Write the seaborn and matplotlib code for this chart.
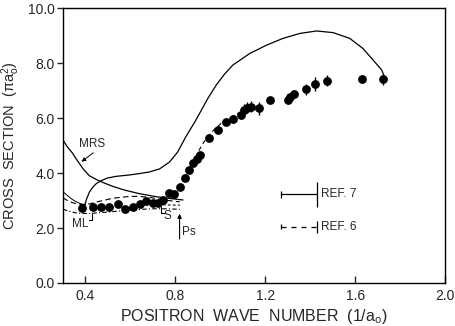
import numpy as np
import pandas as pd
import matplotlib
matplotlib.use("Agg")
import matplotlib.pyplot as plt
import seaborn as sns

# ---- measured data ----
k_data = [0.385, 0.433, 0.470, 0.507, 0.544, 0.578, 0.611, 0.641, 0.670, 0.700,
          0.722, 0.745, 0.774, 0.795, 0.819, 0.841, 0.863, 0.880, 0.895, 0.908,
          0.949, 0.990, 1.024, 1.056, 1.090, 1.105, 1.120, 1.138, 1.172, 1.220,
          1.300, 1.312, 1.328, 1.380, 1.420, 1.473, 1.629, 1.725]
sigma_data = [2.72, 2.75, 2.75, 2.78, 2.86, 2.70, 2.78, 2.86, 2.98, 2.92,
              2.92, 3.02, 3.26, 3.24, 3.50, 3.82, 4.10, 4.35, 4.50, 4.65,
              5.28, 5.57, 5.85, 5.97, 6.12, 6.30, 6.38, 6.42, 6.35, 6.65,
              6.66, 6.76, 6.88, 7.04, 7.24, 7.35, 7.41, 7.42]
sigma_err = [0, 0, 0, 0, 0, 0, 0, 0, 0, 0,
             0, 0, 0, 0, 0, 0, 0, 0, 0, 0,
             0, 0, 0, 0, 0.15, 0.2, 0.2, 0.2, 0.25, 0.1,
             0.1, 0.1, 0.12, 0.2, 0.25, 0.2, 0.15, 0.2]

# ---- theory curves ----
upper_k = [0.396, 0.405, 0.418, 0.432, 0.449, 0.470, 0.498, 0.537, 0.596, 0.640,
           0.685, 0.730, 0.774, 0.810, 0.846, 0.886, 0.908, 0.945, 0.982, 1.019,
           1.056, 1.131, 1.205, 1.279, 1.354, 1.428, 1.502, 1.576, 1.635, 1.680,
           1.718, 1.728]
upper_s = [2.80, 3.05, 3.31, 3.48, 3.62, 3.72, 3.82, 3.88, 3.93, 3.98,
           4.04, 4.15, 4.40, 4.76, 5.31, 5.85, 6.17, 6.72, 7.20, 7.60,
           7.93, 8.35, 8.65, 8.90, 9.08, 9.17, 9.11, 8.90, 8.53, 8.11,
           7.75, 7.55]

mrs_k = [0.300, 0.320, 0.343, 0.360, 0.373, 0.390, 0.418, 0.450, 0.477, 0.520,
         0.574, 0.640, 0.715, 0.780, 0.834]
mrs_s = [5.20, 4.95, 4.72, 4.50, 4.35, 4.15, 3.90, 3.76, 3.66, 3.52,
         3.38, 3.25, 3.14, 3.07, 3.02]

thin_k = [0.300, 0.320, 0.340, 0.360, 0.380, 0.400]
thin_s = [3.32, 3.18, 3.05, 2.95, 2.88, 2.85]

dash_k = [0.300, 0.320, 0.340, 0.360, 0.385, 0.420, 0.450, 0.490, 0.520, 0.560,
          0.600, 0.640, 0.680, 0.720, 0.750, 0.790, 0.820]
dash_s = [3.10, 3.00, 2.93, 2.88, 2.85, 2.88, 2.95, 3.02, 3.08, 3.12,
          3.15, 3.15, 3.12, 3.07, 3.02, 2.98, 2.95]

dashdot_k = [0.300, 0.320, 0.340, 0.360, 0.385, 0.420, 0.450, 0.500, 0.550,
             0.600, 0.650, 0.700, 0.750, 0.790, 0.820]
dashdot_s = [2.68, 2.63, 2.58, 2.55, 2.53, 2.53, 2.55, 2.58, 2.62,
             2.65, 2.68, 2.70, 2.70, 2.69, 2.68]

short_k = [0.700, 0.760, 0.820]
short_s = [2.86, 2.84, 2.83]

rise_k = [0.860, 0.880, 0.900, 0.925, 0.950, 0.975, 1.000, 1.025, 1.050, 1.075, 1.100]
rise_s = [4.05, 4.40, 4.75, 5.10, 5.38, 5.60, 5.78, 5.93, 6.05, 6.16, 6.25]

# ---- resolution markers ----
ref_labels = ["REF. 7", "REF. 6"]
ref_k = [1.272, 1.431]
ref_y = [3.22, 2.05]

x_ticks = [0.4, 0.8, 1.2, 1.6, 2.0]
x_ticklabels = ["0.4", "0.8", "1.2", "1.6", "2.0"]
y_ticks = [0.0, 2.0, 4.0, 6.0, 8.0, 10.0]
y_ticklabels = ["0.0", "2.0", "4.0", "6.0", "8.0", "10.0"]

sns.set_theme(style="ticks")
plt.rcParams["font.family"] = ["Liberation Sans", "DejaVu Sans"]

fig = plt.figure(figsize=(4.56, 3.26), dpi=100)
ax = fig.add_axes([0.138, 0.132, 0.838, 0.843])

df = pd.DataFrame({"k": k_data, "s": sigma_data, "e": sigma_err})
lw = 0.9
sns.lineplot(x=upper_k, y=upper_s, ax=ax, color="black", lw=lw, sort=False)
sns.lineplot(x=mrs_k, y=mrs_s, ax=ax, color="black", lw=lw, sort=False)
sns.lineplot(x=thin_k, y=thin_s, ax=ax, color="black", lw=0.7, sort=False)
sns.lineplot(x=dash_k, y=dash_s, ax=ax, color="black", lw=0.8, sort=False,
             linestyle=(0, (5, 3)))
sns.lineplot(x=dashdot_k, y=dashdot_s, ax=ax, color="black", lw=0.8, sort=False,
             linestyle=(0, (4, 2, 1, 2)))
sns.lineplot(x=short_k, y=short_s, ax=ax, color="black", lw=0.8, sort=False,
             linestyle=(0, (2.5, 2)))
sns.lineplot(x=rise_k, y=rise_s, ax=ax, color="black", lw=0.8, sort=False,
             linestyle=(0, (4, 3)))

err = df[df["e"] > 0]
ax.errorbar(err["k"], err["s"], yerr=err["e"], fmt="none", ecolor="black",
            elinewidth=1.0, capsize=0)
sns.scatterplot(data=df, x="k", y="s", ax=ax, color="black", s=40,
                edgecolor="black", linewidth=0, zorder=5)

# resolution markers
ax.plot(ref_k, [ref_y[0]] * 2, color="black", lw=0.9)
ax.vlines(ref_k[0], ref_y[0] - 0.12, ref_y[0] + 0.12, color="black", lw=0.9)
ax.vlines(ref_k[1], ref_y[0] - 0.47, ref_y[0] + 0.47, color="black", lw=0.9)
ax.plot(ref_k, [ref_y[1]] * 2, color="black", lw=0.9, linestyle=(0, (4, 4)))
ax.vlines(ref_k[0], ref_y[1] - 0.1, ref_y[1] + 0.1, color="black", lw=0.9)
ax.vlines(ref_k[1], ref_y[1] - 0.22, ref_y[1] + 0.22, color="black", lw=0.9)
for lab, yy in zip(ref_labels, ref_y):
    ax.text(ref_k[1] + 0.015, yy, lab, fontsize=8.5, va="center", ha="left")

# labels and annotations
ax.text(0.43, 5.05, "MRS", fontsize=8.5, ha="center", va="center")
ax.annotate("", xy=(0.373, 4.35), xytext=(0.445, 4.8),
            arrowprops=dict(arrowstyle="-|>", color="black", lw=0.7,
                            mutation_scale=6))
ax.text(0.375, 2.15, "ML", fontsize=8.5, ha="center", va="center")
ax.plot([0.415, 0.428, 0.428], [2.3, 2.3, 2.55], color="black", lw=0.8)
ax.text(0.765, 2.42, "S", fontsize=8.5, ha="center", va="center")
ax.plot([0.738, 0.738, 0.752], [2.75, 2.55, 2.55], color="black", lw=0.8)
ax.annotate("", xy=(0.819, 2.62), xytext=(0.819, 1.5),
            arrowprops=dict(arrowstyle="-|>", color="black", lw=0.8,
                            mutation_scale=6))
ax.text(0.83, 1.85, "Ps", fontsize=8.5, ha="left", va="center")

ax.set_xlim(0.3, 2.0)
ax.set_ylim(0.0, 10.0)
ax.set_xticks(x_ticks)
ax.set_xticklabels(x_ticklabels)
ax.set_yticks(y_ticks)
ax.set_yticklabels(y_ticklabels)
ax.tick_params(axis="x", direction="in", length=5, width=1, labelsize=10, pad=4)
ax.tick_params(axis="y", direction="out", length=4, width=1, labelsize=10, pad=2)
for sp in ax.spines.values():
    sp.set_visible(True)
    sp.set_linewidth(1.0)
    sp.set_color("black")
ax.set_xlabel("POSITRON  WAVE  NUMBER  (1/a$_\\mathregular{o}$)", fontsize=11.5,
              labelpad=3)
ax.set_ylabel("CROSS  SECTION  ($\\mathregular{\\pi a_o^2}$)", fontsize=10.5,
              labelpad=4)

fig.savefig("out.png", dpi=100)
